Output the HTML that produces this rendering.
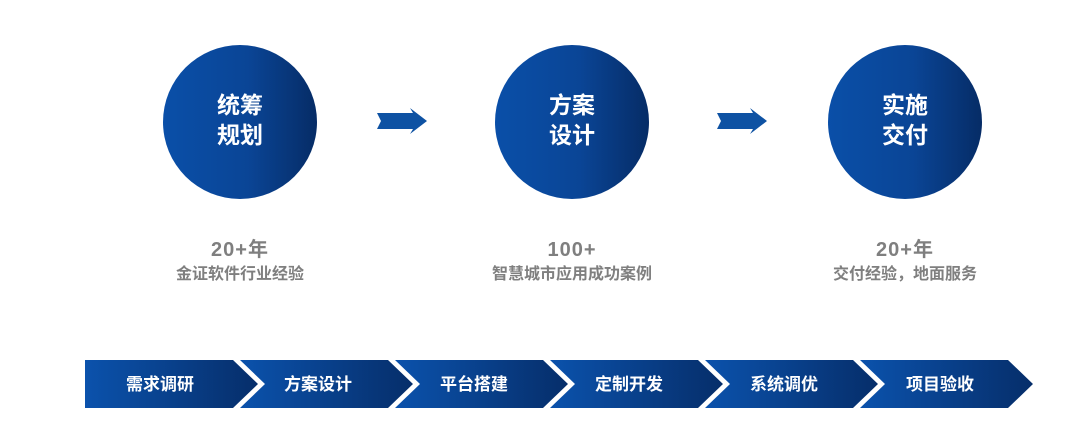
<!DOCTYPE html>
<html><head><meta charset="utf-8"><style>
body{margin:0;width:1080px;height:445px;background:#fff;overflow:hidden;font-family:"Liberation Sans","Noto Sans CJK SC",sans-serif}
</style></head><body>
<svg width="1080" height="445" viewBox="0 0 1080 445" xmlns="http://www.w3.org/2000/svg" style="position:absolute;left:0;top:0">
<defs>
<linearGradient id="g" x1="0" y1="0" x2="1" y2="0">
<stop offset="0" stop-color="#0a4fa8"/><stop offset="0.55" stop-color="#0a4596"/><stop offset="1" stop-color="#062c66"/>
</linearGradient>
<linearGradient id="g2" x1="0" y1="0" x2="1" y2="0">
<stop offset="0" stop-color="#0b52ac"/><stop offset="1" stop-color="#062e6a"/>
</linearGradient>
</defs>
<g font-family="Liberation Sans, Noto Sans CJK SC, sans-serif" font-weight="bold" text-anchor="middle">
<circle cx="240" cy="122" r="77" fill="url(#g)"/>
<circle cx="572" cy="122" r="77" fill="url(#g)"/>
<circle cx="905" cy="122" r="77" fill="url(#g)"/>
<g fill="#fff" font-size="23">
<text x="240" y="113">统筹</text><text x="240" y="143">规划</text>
<text x="572" y="113">方案</text><text x="572" y="143">设计</text>
<text x="905" y="113">实施</text><text x="905" y="143">交付</text>
</g>
<path d="M377 113 L413 113 L410 108 L427 121 L410 134 L413 129 L377 129 L381 121 Z" fill="#0e52a3"/>
<path d="M717 113 L753 113 L750 108 L767 121 L750 134 L753 129 L717 129 L721 121 Z" fill="#0e52a3"/>
<g fill="#7f7f7f">
<text x="240" y="256" font-size="20" letter-spacing="1">20+年</text><text x="240" y="279" font-size="16">金证软件行业经验</text>
<text x="572" y="256" font-size="20" letter-spacing="1">100+</text><text x="572" y="279" font-size="16">智慧城市应用成功案例</text>
<text x="905" y="256" font-size="20" letter-spacing="1">20+年</text><text x="905" y="279" font-size="16">交付经验，地面服务</text>
</g>
<path d="M85 360 L233 360 L258 384 L233 408 L85 408 Z" fill="url(#g2)"/>
<path d="M240 360 L388 360 L413 384 L388 408 L240 408 L265 384 Z" fill="url(#g2)"/>
<path d="M395 360 L543 360 L568 384 L543 408 L395 408 L420 384 Z" fill="url(#g2)"/>
<path d="M550 360 L698 360 L723 384 L698 408 L550 408 L575 384 Z" fill="url(#g2)"/>
<path d="M705 360 L853 360 L878 384 L853 408 L705 408 L730 384 Z" fill="url(#g2)"/>
<path d="M860 360 L1008 360 L1033 384 L1008 408 L860 408 L885 384 Z" fill="url(#g2)"/>
<g fill="#fff" font-size="17">
<text x="160" y="390">需求调研</text>
<text x="318" y="390">方案设计</text>
<text x="474" y="390">平台搭建</text>
<text x="629" y="390">定制开发</text>
<text x="784" y="390">系统调优</text>
<text x="940" y="390">项目验收</text>
</g>
</g>
</svg>
</body></html>
